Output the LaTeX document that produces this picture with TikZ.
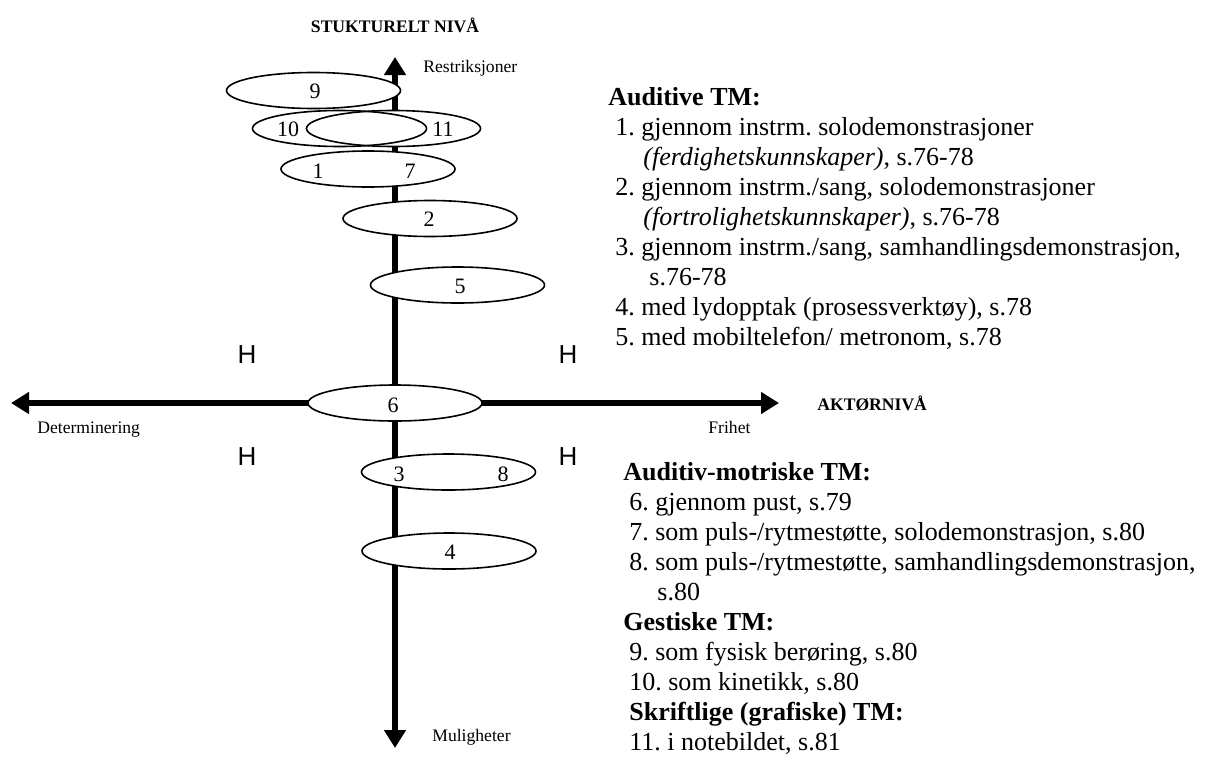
\documentclass[tikz,border=0pt]{standalone}
\usepackage{fontspec}
\setmainfont{Liberation Serif}
\newfontfamily\hfont{Liberation Sans}
\usetikzlibrary{shapes.geometric,arrows.meta}
\frenchspacing

\tikzset{
  axis/.style={line width=3pt,-{Triangle[length=9pt,width=10.5pt]}},
  oval/.style={ellipse,minimum width=87pt,minimum height=18pt,inner sep=0pt,line width=.8pt},
  small/.style={font=\fontsize{8.8}{10}\selectfont,inner sep=0pt},
  listtext/.style={font=\fontsize{13}{15}\selectfont,align=left,anchor=north west,inner sep=0pt}
}

\begin{document}
\begin{tikzpicture}[x=.5pt,y=-.5pt]

        \useasboundingbox (0,0) rectangle (1213,760);

        \coordinate (o)     at (395,403);
        \coordinate (top)   at (395,57);
        \coordinate (bot)   at (395,748);
        \coordinate (left)  at (11,403);
        \coordinate (right) at (779,403);

        \draw[axis] (o) -- (top);
        \draw[axis] (o) -- (bot);
        \draw[axis] (o) -- (left);
        \draw[axis] (o) -- (right);

        \begin{scope}[every node/.style={oval,draw,fill=white}]
          \node (e9)  at (313.5,90.5) {};
          \node[draw=none] (e10) at (339.5,128.5) {};
          \node[draw=none] (e11) at (393.5,128.5) {};
          \node[fill=none] (e10o) at (e10) {};
          \node[fill=none] (e11o) at (e11) {};
          \node (e1)  at (368,169)    {};
          \node (e2)  at (430,218.5)  {};
          \node (e5)  at (457.5,285)  {};
          \node (e6)  at (395,403)    {};
          \node (e3)  at (448.5,472)  {};
          \node (e4)  at (449,551)    {};
        \end{scope}

        \begin{scope}[every node/.style={font=\fontsize{11}{11}\selectfont,inner sep=0pt}]
          \node (n9)  at (315,91)  {9};
          \node (n10) at (288,129) {10};
          \node (n11) at (443,129) {11};
          \node (n1)  at (318,171) {1};
          \node (n7)  at (410,171) {7};
          \node (n2)  at (429,219) {2};
          \node (n5)  at (460,286) {5};
          \node (n6)  at (393,405) {6};
          \node (n3)  at (399,474) {3};
          \node (n8)  at (503,474) {8};
          \node (n4)  at (450,552) {4};
        \end{scope}

        \begin{scope}[every node/.style={small}]
          \node (struk) at (395,25) {\textbf{STUKTURELT NIVÅ}};
          \node[anchor=west] (restr) at (423,68)  {Restriksjoner};
          \node[anchor=west] (deter) at (37,430)  {Determinering};
          \node[anchor=west] (frih)  at (708,427) {Frihet};
          \node[anchor=west] (aktor) at (817,403) {\textbf{AKTØRNIVÅ}};
          \node[anchor=west] (mulig) at (432,737) {Muligheter};
        \end{scope}

        \begin{scope}[every node/.style={font=\hfont\fontsize{13}{13}\selectfont,inner sep=0pt}]
          \node (h1) at (247,355) {H};
          \node (h2) at (568,355) {H};
          \node (h3) at (247,457) {H};
          \node (h4) at (568,457) {H};
        \end{scope}

        \node[listtext] (aud) at (608,87) {%
          \textbf{Auditive TM:}\\
          \hspace*{3.5pt}1. gjennom instrm. solodemonstrasjoner\\
          \hspace*{17.5pt}\textit{(ferdighetskunnskaper)}, s.76-78\\
          \hspace*{3.5pt}2. gjennom instrm./sang, solodemonstrasjoner\\
          \hspace*{17.5pt}\textit{(fortrolighetskunnskaper)}, s.76-78\\
          \hspace*{3.5pt}3. gjennom instrm./sang, samhandlingsdemonstrasjon,\\
          \hspace*{20.5pt}s.76-78\\
          \hspace*{3.5pt}4. med lydopptak (prosessverktøy), s.78\\
          \hspace*{3.5pt}5. med mobiltelefon/ metronom, s.78};

        \node[listtext] (audmot) at (623,462) {%
          \textbf{Auditiv-motriske TM:}\\
          \hspace*{3pt}6. gjennom pust, s.79\\
          \hspace*{3pt}7. som puls-/rytmestøtte, solodemonstrasjon, s.80\\
          \hspace*{3pt}8. som puls-/rytmestøtte, samhandlingsdemonstrasjon,\\
          \hspace*{17pt}s.80\\
          \textbf{Gestiske TM:}\\
          \hspace*{3pt}9. som fysisk berøring, s.80\\
          \hspace*{3pt}10. som kinetikk, s.80\\
          \hspace*{3pt}\textbf{Skriftlige (grafiske) TM:}\\
          \hspace*{3pt}11. i notebildet, s.81};

      \end{tikzpicture}
\end{document}
